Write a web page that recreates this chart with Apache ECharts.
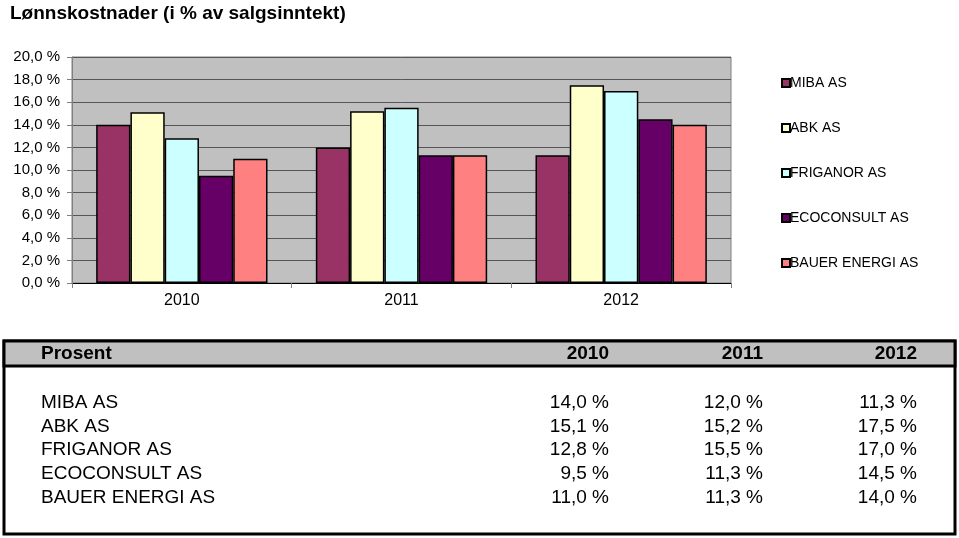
<!DOCTYPE html>
<html><head><meta charset="utf-8">
<script src="https://cdn.jsdelivr.net/npm/echarts@6/dist/echarts.min.js"></script>
<style>html,body{margin:0;padding:0;background:#fff}#c{width:959px;height:538px}</style>
</head><body><div id="c"></div>
<script>
const years = ['2010', '2011', '2012'];
const companies = ['MIBA AS', 'ABK AS', 'FRIGANOR AS', 'ECOCONSULT AS', 'BAUER ENERGI AS'];
const miba = [14.0, 12.0, 11.3];
const abk = [15.1, 15.2, 17.5];
const friganor = [12.8, 15.5, 17.0];
const ecoconsult = [9.5, 11.3, 14.5];
const bauer = [11.0, 11.3, 14.0];
const yTicks = [0, 2, 4, 6, 8, 10, 12, 14, 16, 18, 20];
const colors = ['#993366', '#FFFFCC', '#CCFFFF', '#660066', '#FF8080'];
const values = [miba, abk, friganor, ecoconsult, bauer];

const FONT = 'Liberation Sans, Arial, sans-serif';
const fmt = v => v.toFixed(1).replace('.', ',') + ' %';

const chart = echarts.init(document.getElementById('c'), null, {renderer: 'canvas'});

const colX = [609, 763, 917];
const rowY = [403, 427, 450, 474, 498];
const graphics = [
  {type: 'rect', shape: {x: 4, y: 341, width: 951, height: 193}, style: {fill: '#fff', stroke: '#000', lineWidth: 3}, z: 1},
  {type: 'rect', shape: {x: 4, y: 341, width: 951, height: 25}, style: {fill: '#c0c0c0', stroke: '#000', lineWidth: 3}, z: 2},
  {type: 'text', x: 41, y: 354, style: {text: 'Prosent', font: 'bold 19px ' + FONT, fill: '#000', textAlign: 'left', textVerticalAlign: 'middle'}, z: 3}
];
years.forEach((y, j) => {
  graphics.push({type: 'text', x: colX[j], y: 354, style: {text: y, font: 'bold 19px ' + FONT, fill: '#000', textAlign: 'right', textVerticalAlign: 'middle'}, z: 3});
});
companies.forEach((c, i) => {
  graphics.push({type: 'text', x: 41, y: rowY[i], style: {text: c, font: '19px ' + FONT, fill: '#000', textAlign: 'left', textVerticalAlign: 'middle'}, z: 3});
  years.forEach((y, j) => {
    graphics.push({type: 'text', x: colX[j], y: rowY[i], style: {text: fmt(values[i][j]), font: '19px ' + FONT, fill: '#000', textAlign: 'right', textVerticalAlign: 'middle'}, z: 3});
  });
});

chart.setOption({
  animation: false,
  title: {text: 'Lønnskostnader (i % av salgsinntekt)', left: 5, top: -1,
    textStyle: {fontFamily: FONT, fontWeight: 'bold', fontSize: 19, color: '#000'}},
  grid: {left: 72, right: 228, top: 57, bottom: 255, show: true, backgroundColor: '#c0c0c0', borderColor: '#808080', borderWidth: 1},
  legend: {orient: 'vertical', left: 776, top: 71, itemGap: 31, itemWidth: 8, itemHeight: 8,
    icon: 'rect', data: companies,
    textStyle: {fontFamily: FONT, fontSize: 14, color: '#000', padding: [0, 0, 0, -5]}},
  xAxis: {type: 'category', data: years,
    axisLine: {lineStyle: {color: '#000', width: 1}},
    axisTick: {show: true, length: 5, lineStyle: {color: '#808080'}},
    axisLabel: {fontFamily: FONT, fontSize: 16, color: '#000', margin: 10}},
  yAxis: {type: 'value', min: 0, max: 20, interval: 2,
    axisLine: {show: true, lineStyle: {color: '#808080'}},
    axisTick: {show: true, length: 5, lineStyle: {color: '#808080'}},
    splitLine: {lineStyle: {color: '#555', width: 1}},
    axisLabel: {fontFamily: FONT, fontSize: 15, color: '#000', margin: 12,
      formatter: v => yTicks.includes(v) ? fmt(v) : ''}},
  series: companies.map((c, i) => ({
    name: c, type: 'bar', data: values[i], barGap: '0%', barCategoryGap: '22%',
    itemStyle: {color: colors[i], borderColor: '#000', borderWidth: 1.5}
  })),
  graphic: graphics
});
</script></body></html>
